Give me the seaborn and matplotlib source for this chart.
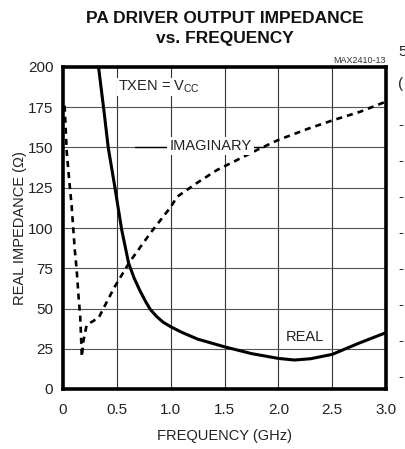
import matplotlib
matplotlib.use("Agg")
import matplotlib.pyplot as plt
import seaborn as sns

# values (left axis units, ohms)
real_freq = [0.33, 0.38, 0.42, 0.48, 0.545, 0.61, 0.66, 0.715, 0.77, 0.81, 0.87,
             0.93, 1.0, 1.1, 1.25, 1.5, 1.75, 2.0, 2.15, 2.3, 2.5, 2.75, 3.0]
real_ohm = [200, 173, 150, 126, 99, 78, 69, 61, 54, 49.5, 45,
            41.5, 38.7, 35.3, 31, 26.2, 22, 19, 18, 18.8, 21.5, 28.5, 35]

imag_freq = [0.015, 0.035, 0.06, 0.08, 0.096, 0.11, 0.127, 0.145, 0.16, 0.175,
             0.19, 0.22, 0.3, 0.33, 0.375, 0.48, 0.62, 0.81, 1.0, 1.06, 1.24,
             1.43, 1.64, 1.8, 2.0, 2.29, 2.51, 2.76, 3.0]
imag_ohm = [176, 147, 128, 114, 99, 86, 74, 57, 45, 20,
            30, 39.8, 43, 44, 50, 63.5, 79, 96.7, 113, 119.4, 127.8,
            136, 143, 148.4, 154.7, 162, 167, 172.2, 178.5]

x_ticks = [0, 0.5, 1.0, 1.5, 2.0, 2.5, 3.0]
x_tick_labels = ["0", "0.5", "1.0", "1.5", "2.0", "2.5", "3.0"]
y_ticks = [0, 25, 50, 75, 100, 125, 150, 175, 200]

# fragments of the neighbouring chart that the crop cuts through
edge_labels = ["5", "(", "-", "-", "-", "-", "-", "-", "-", "-"]
edge_label_y = [52, 84, 125, 161, 197, 233, 269, 305, 341, 377]

sns.set_style("white")
plt.rcParams["font.family"] = ["Liberation Sans Narrow", "Liberation Sans",
                               "DejaVu Sans"]
plt.rcParams["mathtext.fontset"] = "custom"
plt.rcParams["mathtext.rm"] = "Liberation Sans"

W, H = 405, 449
fig = plt.figure(figsize=(W / 100, H / 100), dpi=100)
ax = fig.add_axes([63 / W, 1 - 389 / H, 323 / W, 322 / H])

for x in x_ticks[1:-1]:
    ax.axvline(x, color="#333333", lw=0.8, zorder=1)
for y in y_ticks[1:-1]:
    ax.axhline(y, color="#555555", lw=0.8, zorder=1)

sns.lineplot(x=real_freq, y=real_ohm, ax=ax, sort=False, color="black",
             lw=2.2, zorder=4)
sns.lineplot(x=imag_freq, y=imag_ohm, ax=ax, sort=False, color="black",
             lw=1.9, linestyle=(0, (2.3, 1.9)), zorder=4)

ax.set_xlim(0, 3.0)
ax.set_ylim(0, 200)
ax.set_xticks(x_ticks)
ax.set_xticklabels(x_tick_labels)
ax.set_yticks(y_ticks)
ax.tick_params(axis="both", length=0, labelsize=11, colors="#222222")
ax.tick_params(axis="x", pad=10)
ax.tick_params(axis="y", pad=7)
for s in ax.spines.values():
    s.set_linewidth(2.6)
    s.set_color("black")
    s.set_visible(True)

ax.set_xlabel("FREQUENCY (GHz)", fontsize=10.5, color="#222222", labelpad=9)
ax.set_ylabel("REAL IMPEDANCE (Ω)", fontsize=10.5, color="#222222", labelpad=0.5)

# annotations
ax.plot([0.67, 1.87], [150, 150], color="black", lw=1.0, zorder=3)
ax.text(1.37, 151, "IMAGINARY", fontsize=10.5, ha="center", va="center",
        color="#222222", zorder=5,
        bbox=dict(facecolor="white", edgecolor="none", pad=1.5))
ax.text(0.51, 187.5, r"TXEN = V$_{\mathrm{CC}}$", fontsize=10.5, ha="left",
        va="center", color="#222222", zorder=5,
        bbox=dict(facecolor="white", edgecolor="none", pad=0.5))
ax.text(2.25, 32.5, "REAL", fontsize=10.5, ha="center", va="center",
        color="#222222", zorder=5)

fig.text(224.5 / W, 1 - 28.5 / H, "PA DRIVER OUTPUT IMPEDANCE\nvs. FREQUENCY",
         ha="center", va="center", fontsize=12.5, fontweight="bold",
         linespacing=1.45, color="#111111")
fig.text(386 / W, 1 - 60 / H, "MAX2410-13", ha="right", va="center",
         fontsize=6.5, color="#333333")

for lab, yy in zip(edge_labels, edge_label_y):
    fig.text(398 / W, 1 - yy / H, lab, ha="left", va="center", fontsize=11,
             color="#222222")

fig.savefig("out.png", dpi=100)
